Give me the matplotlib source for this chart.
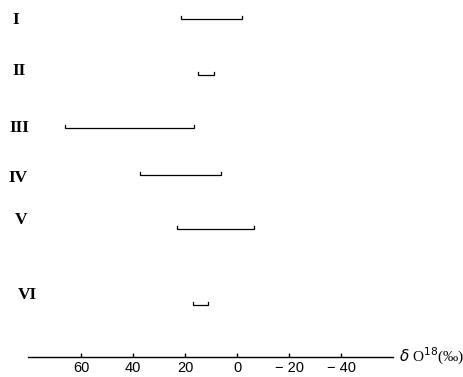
import matplotlib
matplotlib.use("Agg")
import matplotlib.pyplot as plt

# delta O18 ranges (per mil) for each group
groups = ["I", "II", "III", "IV", "V", "VI"]
range_hi = [21.5, 15.0, 66.0, 37.5, 23.0, 17.0]
range_lo = [-2.0, 9.0, 16.5, 6.0, -6.5, 11.0]
tick_vals = [60, 40, 20, 0, -20, -40]
tick_text = ["60", "40", "20", "0", "− 20", "− 40"]

# vertical layout (pixels from the top of the picture)
row_px = [19, 75, 128, 175, 229, 305]
label_px = [(12, 20), (12, 71), (9, 128), (8, 178), (15, 220), (18, 295)]

W, H = 464, 377
axis_px = 357

fig = plt.figure(figsize=(W / 100, H / 100), dpi=100)
ax = fig.add_axes([28 / W, (H - axis_px) / H, 365 / W, axis_px / H])
ax.set_xlim(80.4, -60)
ax.set_ylim(0, axis_px)

for lo, hi, py in zip(range_lo, range_hi, row_px):
    y = axis_px - py
    ax.plot([hi, hi, lo, lo], [y + 3, y, y, y + 3], color="black", lw=0.9,
            solid_joinstyle="miter")

for name, (px, py) in zip(groups, label_px):
    fig.text(px / W, 1 - py / H, name, ha="left", va="center",
             family="Liberation Serif", fontweight="bold", fontsize=12.5)

for s in ["top", "left", "right"]:
    ax.spines[s].set_visible(False)
ax.spines["bottom"].set_linewidth(1.0)
ax.set_yticks([])
ax.set_xticks(tick_vals)
ax.set_xticklabels(tick_text, family="Liberation Sans", fontsize=10.5)
ax.tick_params(axis="x", direction="in", length=3, width=1, pad=3)

fig.text(399 / W, 1 - 356 / H, r"$\delta$ O$^{18}$(‰)", ha="left", va="center",
         family="Liberation Serif", fontsize=11)

fig.savefig("out.png", dpi=100)
